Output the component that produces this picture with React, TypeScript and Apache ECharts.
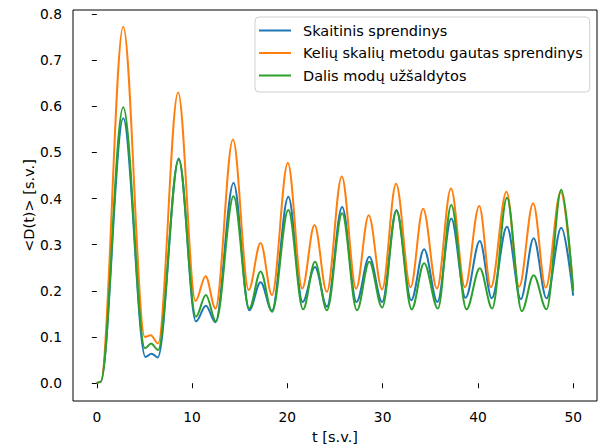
import React, { useEffect, useRef } from "react";
import * as echarts from "echarts";

// [t, value] pairs read at extrema of each curve
const skaitinis: [number, number][] = [
  [0, 0], [0.4, 0.003], [2.77, 0.574], [5.1, 0.057], [5.75, 0.064], [6.4, 0.056],
  [8.6, 0.487], [10.4, 0.134], [11.45, 0.168], [12.45, 0.132], [14.35, 0.434],
  [16.0, 0.158], [17.19, 0.219], [18.38, 0.157], [20.1, 0.404], [21.6, 0.176],
  [22.9, 0.252], [24.15, 0.166], [25.75, 0.382], [27.25, 0.176], [28.6, 0.274],
  [29.95, 0.176], [31.45, 0.375], [33.0, 0.18], [34.35, 0.29], [35.75, 0.176],
  [37.2, 0.357], [38.7, 0.185], [40.2, 0.308], [41.45, 0.184], [43.05, 0.339],
  [44.5, 0.182], [45.85, 0.314], [47.2, 0.184], [48.75, 0.337], [50, 0.19],
];

const keliuSkaliu: [number, number][] = [
  [0, 0], [0.4, 0.003], [2.77, 0.772], [5.04, 0.1], [5.67, 0.104], [6.43, 0.086],
  [8.53, 0.63], [10.36, 0.178], [11.42, 0.232], [12.45, 0.162], [14.29, 0.528],
  [15.94, 0.202], [17.19, 0.304], [18.38, 0.191], [20.05, 0.477], [21.56, 0.205],
  [22.85, 0.343], [24.14, 0.198], [25.71, 0.448], [27.22, 0.205], [28.54, 0.364],
  [29.94, 0.203], [31.41, 0.432], [32.93, 0.208], [34.25, 0.378], [35.7, 0.205],
  [37.17, 0.422], [38.64, 0.208], [40.14, 0.384], [41.36, 0.208], [43.0, 0.415],
  [44.33, 0.209], [45.8, 0.39], [47.12, 0.207], [48.69, 0.415], [50, 0.205],
];

const dalisModu: [number, number][] = [
  [0, 0], [0.4, 0.003], [2.77, 0.598], [5.05, 0.076], [5.7, 0.086], [6.43, 0.072],
  [8.6, 0.484], [10.4, 0.144], [11.45, 0.191], [12.5, 0.134], [14.35, 0.405],
  [16.0, 0.162], [17.19, 0.242], [18.4, 0.155], [20.1, 0.375], [21.65, 0.16],
  [22.9, 0.263], [24.15, 0.158], [25.75, 0.368], [27.3, 0.158], [28.6, 0.263],
  [29.95, 0.164], [31.45, 0.373], [33.05, 0.16], [34.35, 0.26], [35.8, 0.162],
  [37.2, 0.386], [38.8, 0.16], [40.2, 0.249], [41.5, 0.162], [43.05, 0.402],
  [44.6, 0.156], [45.85, 0.234], [47.2, 0.16], [48.75, 0.419], [50, 0.2],
];

const xTicks = [0, 10, 20, 30, 40, 50];
const yTicks = [0, 0.1, 0.2, 0.3, 0.4, 0.5, 0.6, 0.7, 0.8];

const seriesNames = [
  "Skaitinis sprendinys",
  "Kelių skalių metodu gautas sprendinys",
  "Dalis modų užšaldytos",
];
const colors = ["#1f77b4", "#ff7f0e", "#2ca02c"];
const xTitle = "t [s.v.]";
const yTitle = "<D(t)> [s.v.]";

const FONT = "DejaVu Sans";

export default function App() {
  const ref = useRef<HTMLDivElement>(null);
  useEffect(() => {
    if (!ref.current) return;
    const chart = echarts.init(ref.current, undefined, { renderer: "svg" });
    const datasets = [skaitinis, keliuSkaliu, dalisModu];
    chart.setOption({
      animation: false,
      backgroundColor: "#fff",
      textStyle: { fontFamily: FONT },
      grid: {
        left: 73,
        top: 10,
        width: 524,
        height: 391,
        show: true,
        borderColor: "#000",
        borderWidth: 1,
        backgroundColor: "transparent",
      },
      xAxis: {
        type: "value",
        min: -2.5,
        max: 52.5,
        splitLine: { show: false },
        axisLine: { show: false },
        axisTick: {
          show: true,
          inside: false,
          length: 5,
          lineStyle: { color: "#000", width: 1 },
          customValues: xTicks,
        },
        axisLabel: {
          margin: 9,
          color: "#000",
          fontSize: 13.8,
          fontFamily: FONT,
          customValues: xTicks,
          formatter: (v: number) => String(v),
        },
      },
      yAxis: {
        type: "value",
        min: -0.0385,
        max: 0.8085,
        splitLine: { show: false },
        axisLine: { show: false },
        axisTick: {
          show: true,
          inside: false,
          length: 5,
          lineStyle: { color: "#000", width: 1 },
          customValues: yTicks,
        },
        axisLabel: {
          margin: 11,
          color: "#000",
          fontSize: 13.8,
          fontFamily: FONT,
          customValues: yTicks,
          formatter: (v: number) => v.toFixed(1),
        },
      },
      legend: {
        left: 255,
        top: 17,
        orient: "vertical",
        icon: "rect",
        itemWidth: 32,
        itemHeight: 2,
        itemGap: 7.5,
        padding: [6, 7, 9, 4],
        backgroundColor: "#fff",
        borderColor: "#d0d0d0",
        borderWidth: 1,
        borderRadius: 4,
        textStyle: {
          fontFamily: FONT,
          fontSize: 14.5,
          color: "#000",
          lineHeight: 14,
          padding: [0, 0, 0, 7],
        },
        data: seriesNames,
      },
      graphic: [
        {
          type: "text",
          x: 29,
          y: 205.5,
          rotation: Math.PI / 2,
          style: {
            text: yTitle,
            fontFamily: FONT,
            fontSize: 14.5,
            fill: "#000",
            align: "center",
            verticalAlign: "middle",
          },
        },
        {
          type: "text",
          x: 335,
          y: 437,
          style: {
            text: xTitle,
            fontFamily: FONT,
            fontSize: 14.5,
            fill: "#000",
            align: "center",
            verticalAlign: "middle",
          },
        },
      ],
      series: seriesNames.map((name, i) => ({
        name,
        type: "line",
        data: datasets[i],
        showSymbol: false,
        smooth: 0.35,
        smoothMonotone: "x",
        color: colors[i],
        lineStyle: { color: colors[i], width: 2 },
        itemStyle: { color: colors[i] },
      })),
    });
    return () => chart.dispose();
  }, []);
  return (
    <div
      ref={ref}
      style={{ position: "fixed", left: 0, top: 0, width: 600, height: 447 }}
    />
  );
}
